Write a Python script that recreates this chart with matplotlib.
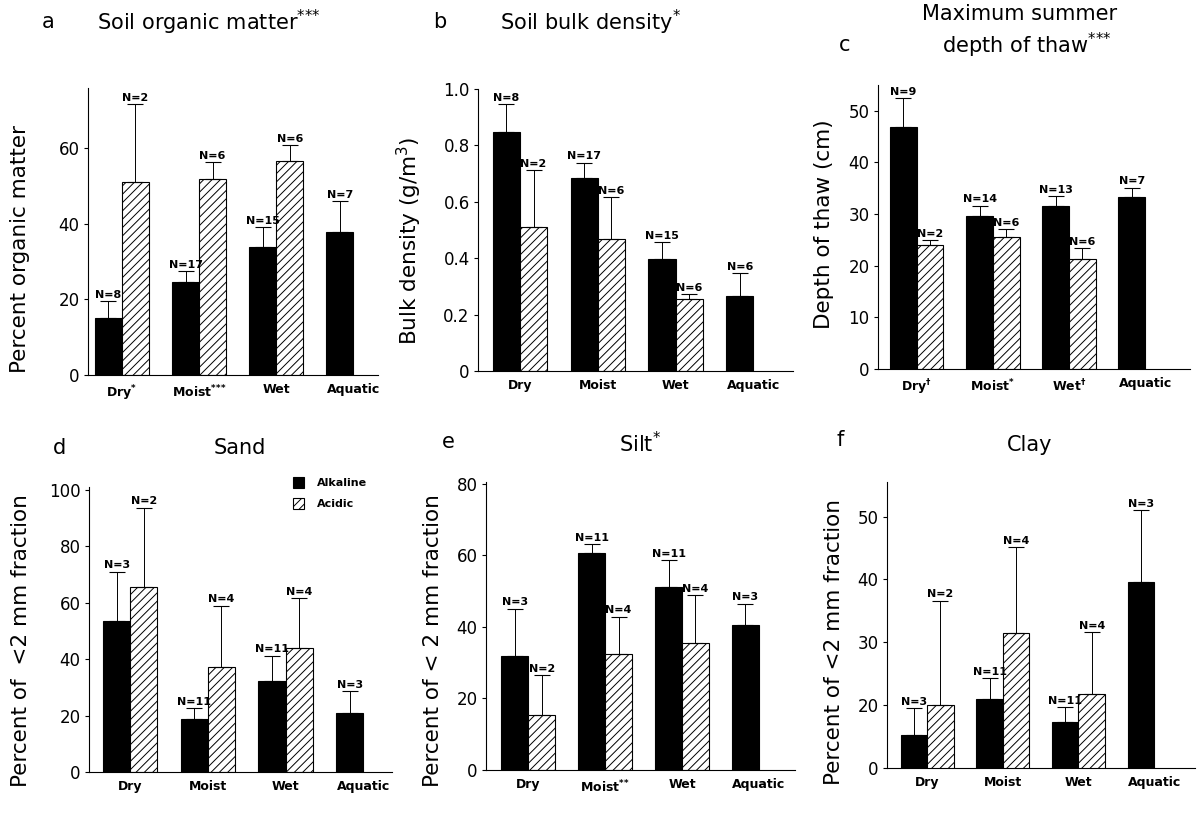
import numpy as np
import matplotlib.pyplot as plt

plt.rcParams['font.family'] = ['DejaVu Sans']
plt.rcParams['hatch.linewidth'] = 0.7
plt.rcParams['mathtext.default'] = 'regular'

# ---- data ----
groups = ['Dry', 'Moist', 'Wet', 'Aquatic']

# a  soil organic matter (%)
om_alk = [15.2, 24.5, 34.0, 37.8]
om_alk_se = [4.3, 3.0, 5.2, 8.2]
om_acid = [51.2, 52.0, 56.8]
om_acid_se = [20.5, 4.3, 4.0]
om_n_alk = [8, 17, 15, 7]
om_n_acid = [2, 6, 6]
om_xlab = ['Dry$^{*}$', 'Moist$^{{*}{*}{*}}$', 'Wet', 'Aquatic']

# b  bulk density
bd_alk = [0.847, 0.685, 0.396, 0.267]
bd_alk_se = [0.100, 0.053, 0.060, 0.080]
bd_acid = [0.510, 0.467, 0.255]
bd_acid_se = [0.203, 0.149, 0.017]
bd_n_alk = [8, 17, 15, 6]
bd_n_acid = [2, 6, 6]
bd_xlab = ['Dry', 'Moist', 'Wet', 'Aquatic']

# c  max thaw depth (cm)
th_alk = [46.9, 29.7, 31.6, 33.3]
th_alk_se = [5.6, 1.9, 1.9, 1.8]
th_acid = [24.0, 25.6, 21.3]
th_acid_se = [1.0, 1.5, 2.1]
th_n_alk = [9, 14, 13, 7]
th_n_acid = [2, 6, 6]
th_xlab = ['Dry$^{\\dagger}$', 'Moist$^{*}$', 'Wet$^{\\dagger}$', 'Aquatic']

# d  sand
sa_alk = [53.6, 18.7, 32.4, 20.8]
sa_alk_se = [17.4, 3.9, 8.8, 7.9]
sa_acid = [65.4, 37.1, 43.9]
sa_acid_se = [28.3, 21.8, 17.7]
# e  silt
si_alk = [31.8, 60.7, 51.1, 40.6]
si_alk_se = [13.3, 2.5, 7.6, 5.9]
si_acid = [15.5, 32.3, 35.5]
si_acid_se = [11.0, 10.6, 13.3]
# f  clay
cl_alk = [15.2, 21.0, 17.3, 39.6]
cl_alk_se = [4.3, 3.3, 2.4, 11.4]
cl_acid = [20.0, 31.4, 21.7]
cl_acid_se = [16.6, 13.7, 9.9]
tex_n_alk = [3, 11, 11, 3]
tex_n_acid = [2, 4, 4]
sa_xlab = ['Dry', 'Moist', 'Wet', 'Aquatic']
si_xlab = ['Dry', 'Moist$^{{*}{*}}$', 'Wet', 'Aquatic']
cl_xlab = ['Dry', 'Moist', 'Wet', 'Aquatic']


W, H = 1200, 819


def rect(left, right, top, bottom):
    """pixel box -> figure fraction"""
    return [left / W, 1 - bottom / H, (right - left) / W, (bottom - top) / H]


def panel(ax, alk, alk_se, acid, acid_se, n_alk, n_acid, xlab, ylabel,
          yticks, ylim, xlim, lab_xy, ytl=None, w=0.35):
    x = np.arange(len(alk))
    xa = x - w / 2
    xb = x[:len(acid)] + w / 2
    ax.bar(xa, alk, w, color='black', edgecolor='black', lw=0.8,
           label='Alkaline')
    ax.bar(xb, acid, w, color='white', edgecolor='black', lw=0.8,
           hatch='////', label='Acidic')
    ax.errorbar(xa, alk, yerr=[np.zeros(len(alk)), alk_se], fmt='none',
                ecolor='black', elinewidth=0.7, capsize=6, capthick=0.8)
    ax.errorbar(xb, acid, yerr=[np.zeros(len(acid)), acid_se], fmt='none',
                ecolor='black', elinewidth=0.7, capsize=6, capthick=0.8)
    for xi, m, s, n in zip(list(xa) + list(xb), list(alk) + list(acid),
                           list(alk_se) + list(acid_se),
                           list(n_alk) + list(n_acid)):
        ax.annotate(f'N={n}', (xi, m + s), xytext=(0, 1),
                    textcoords='offset points', ha='center', va='bottom',
                    fontsize=8, fontweight='bold')
    ax.set_xticks(x, xlab)
    ax.tick_params(axis='x', length=0, labelsize=9, pad=6)
    for t in ax.get_xticklabels():
        t.set_fontweight('bold')
    ax.set_yticks(yticks)
    if ytl is not None:
        ax.set_yticklabels(ytl)
    ax.tick_params(axis='y', direction='out', length=3, labelsize=12,
                   pad=3, width=0.8)
    ax.set_ylim(*ylim)
    ax.set_xlim(*xlim)
    for s in ['top', 'right']:
        ax.spines[s].set_visible(False)
    for s in ['left', 'bottom']:
        ax.spines[s].set_linewidth(0.8)
    ax.set_ylabel(ylabel, fontsize=15.5)
    ax.yaxis.set_label_coords(*lab_xy)


fig = plt.figure(figsize=(12, 8.19), dpi=100)

ax_a = fig.add_axes(rect(88, 378, 88, 375))
panel(ax_a, om_alk, om_alk_se, om_acid, om_acid_se, om_n_alk, om_n_acid,
      om_xlab, 'Percent organic matter', [0, 20, 40, 60], (0, 76),
      (-0.44, 3.32), (-0.2, 0.44))

ax_b = fig.add_axes(rect(478, 793, 89, 371))
panel(ax_b, bd_alk, bd_alk_se, bd_acid, bd_acid_se, bd_n_alk, bd_n_acid,
      bd_xlab, 'Bulk density (g/m$^3$)', [0, 0.2, 0.4, 0.6, 0.8, 1.0],
      (0, 1.0), (-0.54, 3.51), (-0.17, 0.46),
      ytl=['0', '0.2', '0.4', '0.6', '0.8', '1.0'])

ax_c = fig.add_axes(rect(878, 1190, 85, 369))
panel(ax_c, th_alk, th_alk_se, th_acid, th_acid_se, th_n_alk, th_n_acid,
      th_xlab, 'Depth of thaw (cm)', [0, 10, 20, 30, 40, 50], (0, 55),
      (-0.51, 3.59), (-0.14, 0.51))

ax_d = fig.add_axes(rect(89, 392, 487, 772))
panel(ax_d, sa_alk, sa_alk_se, sa_acid, sa_acid_se, tex_n_alk, tex_n_acid,
      sa_xlab, 'Percent of  <2 mm fraction', [0, 20, 40, 60, 80, 100],
      (0, 101), (-0.53, 3.37), (-0.19, 0.46))
ax_d.legend(loc='upper left', bbox_to_anchor=(0.64, 1.07), frameon=False,
            handlelength=1.0, handleheight=1.1, labelspacing=0.9,
            handletextpad=1.2, prop={'size': 8, 'weight': 'bold'})

ax_e = fig.add_axes(rect(486, 795, 482, 770))
panel(ax_e, si_alk, si_alk_se, si_acid, si_acid_se, tex_n_alk, tex_n_acid,
      si_xlab, 'Percent of < 2 mm fraction', [0, 20, 40, 60, 80],
      (0, 80.5), (-0.55, 3.47), (-0.14, 0.45))

ax_f = fig.add_axes(rect(887, 1195, 482, 768))
panel(ax_f, cl_alk, cl_alk_se, cl_acid, cl_acid_se, tex_n_alk, tex_n_acid,
      cl_xlab, 'Percent of <2 mm fraction', [10, 20, 30, 40, 50],
      (10, 55.5), (-0.53, 3.54), (-0.14, 0.44),
      ytl=['0', '20', '30', '40', '50'])

# panel letters and titles
def ftext(x, y, s, **kw):
    fig.text(x / W, 1 - y / H, s, va='center', fontsize=15, **kw)

ftext(48, 22, 'a', ha='center')
ftext(97, 22, 'Soil organic matter$^{{*}{*}{*}}$', ha='left')
ftext(440, 22, 'b', ha='center')
ftext(500, 22, 'Soil bulk density$^{*}$', ha='left')
ftext(845, 45, 'c', ha='center')
ftext(1020, 32, 'Maximum summer\n  depth of thaw$^{{*}{*}{*}}$', ha='center',
      linespacing=1.3)
ftext(60, 448, 'd', ha='center')
ftext(240, 448, 'Sand', ha='center')
ftext(448, 442, 'e', ha='center')
ftext(640, 444, 'Silt$^{*}$', ha='center')
ftext(840, 440, 'f', ha='center')
ftext(1030, 445, 'Clay', ha='center')

fig.savefig('out.png', dpi=100)
